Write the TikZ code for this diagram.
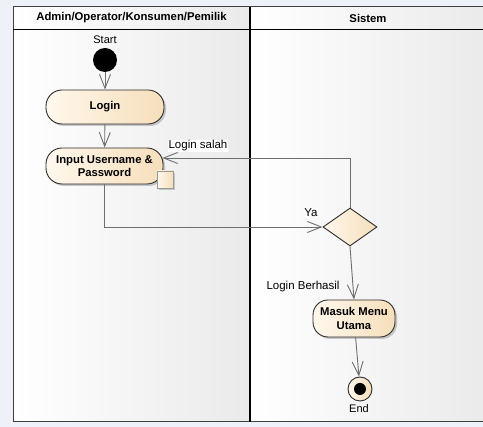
\documentclass[tikz,border=0pt]{standalone}
\usepackage{fontspec}
\setmainfont{Liberation Sans}
\usetikzlibrary{arrows.meta,shapes.geometric,calc,shadows}
\definecolor{outerbg}{RGB}{238,241,247}
\definecolor{lanegray}{RGB}{234,234,234}
\definecolor{creamL}{RGB}{255,248,237}
\definecolor{creamR}{RGB}{246,222,186}
\definecolor{edgegray}{RGB}{110,110,110}
\definecolor{nodeborder}{RGB}{45,45,45}
\tikzset{
  lane/.style={left color=white,right color=lanegray,draw=none},
  act/.style={draw=nodeborder,line width=0.9pt,left color=creamL,right color=creamR,
    rounded corners=16pt,align=center,font=\fontsize{11.3}{13.5}\selectfont\bfseries,
    inner sep=0pt,drop shadow={shadow xshift=2pt,shadow yshift=-2pt,fill=black!35,opacity=0.6}},
  decision/.style={diamond,draw=nodeborder,line width=0.9pt,left color=creamL,right color=creamR,
    minimum width=54pt,minimum height=38pt,inner sep=0pt},
  pinbox/.style={draw=black!40,line width=0.6pt,left color=creamL,right color=creamR,
    minimum width=16pt,minimum height=17pt,inner sep=0pt,
    drop shadow={shadow xshift=2pt,shadow yshift=-2pt,fill=black!35,opacity=0.6}},
  flow/.style={draw=edgegray,line width=0.9pt,-{Straight Barb[length=14pt,width=11pt,line width=0.9pt]}},
  lbl/.style={font=\fontsize{11.5}{13}\selectfont,inner sep=1pt},
  head/.style={font=\fontsize{11.3}{13}\selectfont\bfseries}
}
\begin{document}
\begin{tikzpicture}[x=1pt,y=-1pt]
\useasboundingbox (0,0) rectangle (483,427);
\clip (0,0) rectangle (483,427);
\fill[outerbg] (0,0) rectangle (483,427);
% lanes
\shade[lane] (13,7) rectangle (250,422);
\shade[lane] (250,7) rectangle (490,422);
\draw[black!75,line width=1pt] (13,7) rectangle (490,422);
\draw[black,line width=1.3pt] (13,29.5) -- (490,29.5);
\draw[black,line width=2pt] (250,7) -- (250,422);
\node[head] (h1) at (131.5,18) {Admin/Operator/Konsumen/Pemilik};
\node[head] (h2) at (368,18) {Sistem};
% nodes
\node[circle,fill=black,minimum size=24pt,inner sep=0pt] (start) at (105,60) {};
\node[lbl,font=\fontsize{11}{13}\selectfont] (startl) at (105,40) {Start};
\node[act,minimum width=118pt,minimum height=34pt] (login) at (105,107) {Login};
\node[act,minimum width=117pt,minimum height=36pt] (input) at (104.5,166) {Input Username \&\\Password};
\node[pinbox] (pin) at (165,179.5) {};
\node[decision] (dec) at (350,227) {};
\node[act,minimum width=82pt,minimum height=37pt,rounded corners=15pt] (masuk) at (354,318.5) {Masuk Menu\\Utama};
\node[circle,draw=nodeborder,line width=0.9pt,left color=creamL,right color=creamR,minimum size=24pt,inner sep=0pt] (end) at (360,389) {};
\node[circle,fill=black,minimum size=12pt,inner sep=0pt] (endin) at (360,389) {};
\node[lbl,font=\fontsize{11}{13}\selectfont] (endl) at (359,408.5) {End};
% edges
\draw[flow] (start) -- (login);
\draw[flow] (login) -- (input);
\draw[flow] (input.south) |- (dec.west);
\draw[flow] (dec.north) |- ([yshift=8pt,xshift=-1pt]input.east);
\draw[flow] (dec.south) -- (masuk.north);
\draw[flow] (masuk) -- (end);
% labels
\node[lbl,fill=white] (ls) at (198,146) {Login salah};
\node[lbl] (ya) at (311,213) {Ya};
\node[lbl] (lb) at (303,287) {Login Berhasil};
\end{tikzpicture}
\end{document}
